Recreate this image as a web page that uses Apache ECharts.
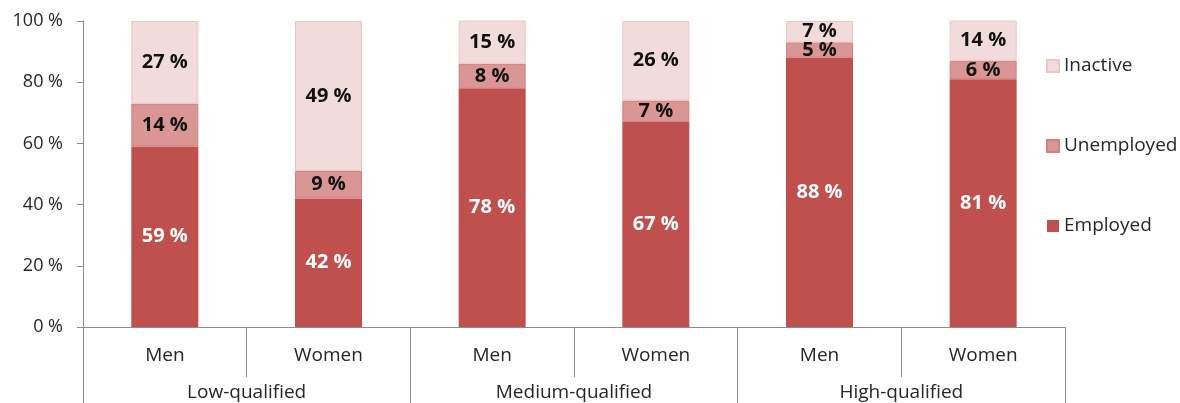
<!DOCTYPE html>
<html>
<head>
<meta charset="utf-8">
<title>Employed / Unemployed / Inactive by qualification</title>
<script src="https://cdn.jsdelivr.net/npm/echarts@6/dist/echarts.min.js"></script>
<style>
  html, body { margin: 0; padding: 0; background: #fff; }
  #main { width: 1180px; height: 403px; }
</style>
</head>
<body>
<div id="main"></div>
<script>
// categories (inner and outer level of the x axis)
var sexes = ['Men', 'Women', 'Men', 'Women', 'Men', 'Women'];
var groups = ['Low-qualified', 'Medium-qualified', 'High-qualified'];

// shares in %
var employed = [59, 42, 78, 67, 88, 81];
var unemployed = [14, 9, 8, 7, 5, 6];
var inactive = [27, 49, 15, 26, 7, 14];

var yTicks = [0, 20, 40, 60, 80, 100];

var font = '"Open Sans", "Noto Sans", sans-serif';
var textColor = '#262626';
var axisColor = '#8c8c8c';

var chart = echarts.init(document.getElementById('main'));

// label style for every segment
function segLabel(color) {
  return {
    show: true,
    position: 'inside',
    color: color,
    fontFamily: font,
    fontWeight: 'bold',
    fontSize: 20,
    formatter: function (p) { return p.value + ' %'; }
  };
}

chart.setOption({
  animation: false,
  textStyle: { fontFamily: font },
  grid: { left: 83, right: 115, top: 21, bottom: 76 },
  legend: {
    orient: 'vertical',
    left: 1041,
    top: 50,
    itemWidth: 12,
    itemHeight: 12,
    itemGap: 58,
    icon: 'rect',
    data: ['Inactive', 'Unemployed', 'Employed'],
    textStyle: { color: textColor, fontSize: 19, fontFamily: font, lineHeight: 22 }
  },
  xAxis: [
    {
      // inner level: Men / Women
      type: 'category',
      data: sexes,
      position: 'bottom',
      axisLine: { lineStyle: { color: axisColor } },
      axisTick: { show: true, interval: 0, length: 50, lineStyle: { color: axisColor } },
      axisLabel: { interval: 0, margin: 19, color: textColor, fontSize: 19, fontFamily: font }
    },
    {
      // outer level: qualification groups
      type: 'category',
      data: groups,
      position: 'bottom',
      axisLine: { lineStyle: { color: axisColor } },
      axisTick: { show: true, interval: 0, length: 76, lineStyle: { color: axisColor } },
      axisLabel: { interval: 0, margin: 56, color: textColor, fontSize: 19, fontFamily: font }
    }
  ],
  yAxis: {
    type: 'value',
    min: yTicks[0],
    max: yTicks[yTicks.length - 1],
    interval: yTicks[1] - yTicks[0],
    splitLine: { show: false },
    axisLine: { show: true, lineStyle: { color: axisColor } },
    axisTick: { show: true, length: 6, lineStyle: { color: axisColor } },
    axisLabel: {
      margin: 20,
      color: textColor,
      fontSize: 18,
      fontFamily: font,
      formatter: function (v) { return v + ' %'; }
    }
  },
  series: [
    {
      name: 'Employed',
      type: 'bar',
      stack: 'all',
      barWidth: 67,
      itemStyle: { color: '#c0504d' },
      label: segLabel('#ffffff'),
      data: employed
    },
    {
      name: 'Unemployed',
      type: 'bar',
      stack: 'all',
      barWidth: 67,
      itemStyle: { color: '#d99694', borderColor: '#d4807e', borderWidth: 1 },
      label: segLabel('#111111'),
      data: unemployed
    },
    {
      name: 'Inactive',
      type: 'bar',
      stack: 'all',
      barWidth: 67,
      itemStyle: { color: '#f2dcdb', borderColor: '#ebc6c5', borderWidth: 1 },
      label: segLabel('#111111'),
      data: inactive
    }
  ]
});
</script>
</body>
</html>
